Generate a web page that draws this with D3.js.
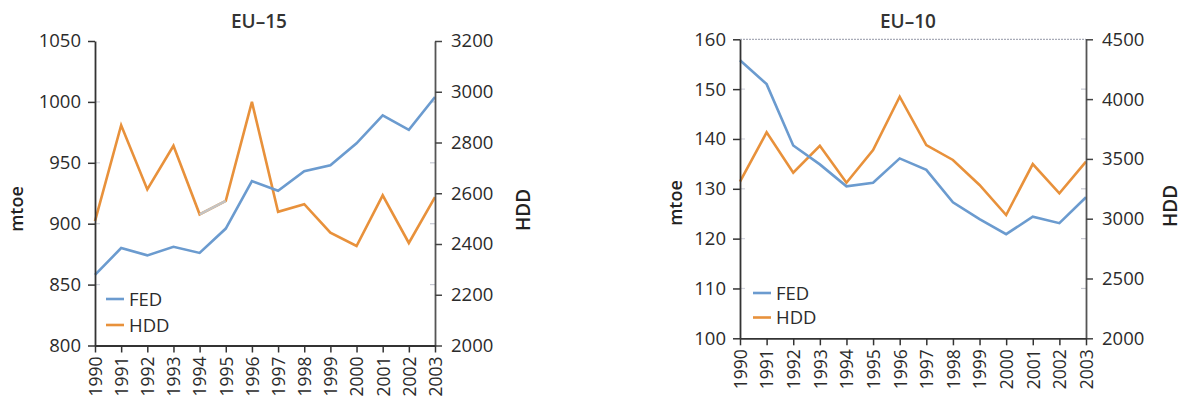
<!DOCTYPE html>
<html>
<head>
<meta charset="utf-8">
<script src="https://cdn.jsdelivr.net/npm/d3@7"></script>
<style>
  html, body { margin: 0; padding: 0; background: #fff; }
  svg { display: block; font-family: "Open Sans", "Noto Sans", sans-serif; }
</style>
</head>
<body>
<svg id="chart" width="1183" height="399"></svg>
<script>
// Years shared by both panels
const years = ["1990","1991","1992","1993","1994","1995","1996","1997","1998","1999","2000","2001","2002","2003"];

// EU-15: final energy demand (mtoe) and heating degree days
const eu15Fed = [858, 880, 874, 881, 876, 896, 935, 927, 943, 948, 966, 989, 977, 1004];
const eu15Hdd = [2490, 2868, 2615, 2787, 2517, 2570, 2960, 2527, 2557, 2445, 2392, 2592, 2404, 2585];
const eu15LeftTicks = [800, 850, 900, 950, 1000, 1050];
const eu15RightTicks = [2000, 2200, 2400, 2600, 2800, 3000, 3200];
const eu15HddFaded = ["1994", "1995"];

// EU-10: final energy demand (mtoe) and heating degree days
const eu10Fed = [155.8, 151.0, 138.7, 134.9, 130.5, 131.2, 136.1, 133.8, 127.3, 123.9, 120.9, 124.4, 123.1, 128.3];
const eu10Hdd = [3310, 3722, 3385, 3610, 3301, 3574, 4020, 3616, 3491, 3282, 3031, 3457, 3212, 3477];
const eu10LeftTicks = [100, 110, 120, 130, 140, 150, 160];
const eu10RightTicks = [2000, 2500, 3000, 3500, 4000, 4500];

const seriesNames = ["FED", "HDD"];
const FED_COLOR = "#6b9bcf";
const HDD_COLOR = "#e8913b";
const TEXT = "#2b2b2b";
const fmt = d3.format("d");

const svg = d3.select("#chart");

function drawPanel(p) {
  const g = svg.append("g");
  const x = d3.scalePoint().domain(years).range([p.x0, p.x1]);
  const yL = d3.scaleLinear().domain(d3.extent(p.leftTicks)).range([p.yBot, p.yTop]);
  const yR = d3.scaleLinear().domain(d3.extent(p.rightTicks)).range([p.yBot, p.yTop]);

  // top reference line (dotted)
  if (p.topGrid) {
    const top = p.leftTicks[p.leftTicks.length - 1];
    g.append("line")
      .attr("x1", p.x0).attr("x2", p.x1)
      .attr("y1", yL(top)).attr("y2", yL(top))
      .attr("stroke", "#a9acb8").attr("stroke-width", 1.2)
      .attr("stroke-dasharray", "2,1");
  }

  // faint gridline stubs at the left-axis tick levels
  const stubs = p.leftTicks.slice(1, -1);
  g.selectAll(".stubL").data(stubs).join("line")
    .attr("x1", p.x0).attr("x2", p.x0 + 5)
    .attr("y1", d => yL(d)).attr("y2", d => yL(d))
    .attr("stroke", "#d3d5de").attr("stroke-width", 1.2);
  g.selectAll(".stubR").data(stubs).join("line")
    .attr("x1", p.x1 - 5).attr("x2", p.x1)
    .attr("y1", d => yL(d)).attr("y2", d => yL(d))
    .attr("stroke", "#c6c8d2").attr("stroke-width", 1.2);

  // lines
  const lineFed = d3.line().x((d, i) => x(years[i])).y(d => yL(d));
  const lineHdd = d3.line().x((d, i) => x(years[i])).y(d => yR(d));

  g.append("path").datum(p.hdd)
    .attr("d", lineHdd).attr("fill", "none")
    .attr("stroke", HDD_COLOR).attr("stroke-width", 2.6);

  if (p.hddFaded) {
    const idx = p.hddFaded.map(yr => years.indexOf(yr));
    g.append("line")
      .attr("x1", x(years[idx[0]])).attr("y1", yR(p.hdd[idx[0]]))
      .attr("x2", x(years[idx[1]])).attr("y2", yR(p.hdd[idx[1]]))
      .attr("stroke", "#c4c4c4").attr("stroke-width", 2.6);
  }

  g.append("path").datum(p.fed)
    .attr("d", lineFed).attr("fill", "none")
    .attr("stroke", FED_COLOR).attr("stroke-width", 2.6);

  // axes
  const axL = g.append("g").attr("transform", `translate(${p.x0},0)`)
    .call(d3.axisLeft(yL).tickValues(p.leftTicks).tickFormat(fmt)
      .tickSize(7).tickPadding(7).tickSizeOuter(0));
  const axR = g.append("g").attr("transform", `translate(${p.x1},0)`)
    .call(d3.axisRight(yR).tickValues(p.rightTicks).tickFormat(fmt)
      .tickSize(7).tickPadding(9).tickSizeOuter(0));
  const axB = g.append("g").attr("transform", `translate(0,${p.yBot})`)
    .call(d3.axisBottom(x).tickSize(7).tickSizeOuter(0));

  [axL, axR].forEach(a => {
    a.selectAll("text").attr("font-size", 18.5).attr("fill", TEXT)
      .attr("font-family", "'Open Sans', sans-serif");
  });
  axL.select(".domain").attr("stroke", "#333").attr("stroke-width", 1.8);
  axL.selectAll(".tick line").attr("stroke", "#333").attr("stroke-width", 1.5);
  axR.select(".domain").attr("stroke", "#555").attr("stroke-width", 1.8);
  axR.selectAll(".tick line").attr("stroke", "#444").attr("stroke-width", 1.5);
  axB.select(".domain").attr("stroke", "#333").attr("stroke-width", 1.8);
  axB.selectAll(".tick line").attr("stroke", "#333").attr("stroke-width", 1.5);
  axB.selectAll("text")
    .attr("font-size", 17.5).attr("fill", TEXT)
    .attr("font-family", "'Open Sans', sans-serif")
    .attr("text-anchor", "end")
    .attr("y", 0).attr("dy", "0.36em")
    .attr("transform", "translate(0,11) rotate(-90)");

  // title
  g.append("text").attr("x", p.titleX).attr("y", 28)
    .attr("text-anchor", "middle").attr("font-size", 19).attr("font-weight", 600)
    .attr("fill", "#333").text(p.title);

  // axis titles
  g.append("text")
    .attr("transform", `translate(${p.mtoeX},${p.mtoeY}) rotate(-90)`)
    .attr("text-anchor", "middle").attr("dy", "0.35em")
    .attr("font-size", 18).attr("font-weight", 600).attr("fill", "#222").text("mtoe");
  g.append("text")
    .attr("transform", `translate(${p.hddX},${p.hddY}) rotate(-90)`)
    .attr("text-anchor", "middle").attr("dy", "0.35em")
    .attr("font-size", 19).attr("font-weight", 600).attr("fill", "#222").text("HDD");

  // legend
  const leg = g.selectAll(".leg").data(seriesNames).join("g")
    .attr("transform", (d, i) => `translate(${p.x0 + p.legDx},${p.legY + i * p.legStep})`);
  leg.append("line").attr("x1", 0).attr("x2", 18)
    .attr("stroke", (d, i) => i === 0 ? FED_COLOR : HDD_COLOR).attr("stroke-width", 2.6);
  leg.append("text").attr("x", 23).attr("dy", "0.36em")
    .attr("font-size", 18.5).attr("fill", TEXT).text(d => d);
}

drawPanel({
  title: "EU\u201315", titleX: 259,
  x0: 95, x1: 435, yTop: 41, yBot: 345.5,
  fed: eu15Fed, hdd: eu15Hdd, hddFaded: eu15HddFaded,
  leftTicks: eu15LeftTicks, rightTicks: eu15RightTicks,
  topGrid: false,
  mtoeX: 16.5, mtoeY: 209, hddX: 523, hddY: 210,
  legDx: 11, legY: 299, legStep: 26
});

drawPanel({
  title: "EU\u201310", titleX: 908,
  x0: 740, x1: 1086, yTop: 39.3, yBot: 338.3,
  fed: eu10Fed, hdd: eu10Hdd, hddFaded: null,
  leftTicks: eu10LeftTicks, rightTicks: eu10RightTicks,
  topGrid: true,
  mtoeX: 676, mtoeY: 203, hddX: 1170, hddY: 206,
  legDx: 13, legY: 293, legStep: 24.5
});
</script>
</body>
</html>
